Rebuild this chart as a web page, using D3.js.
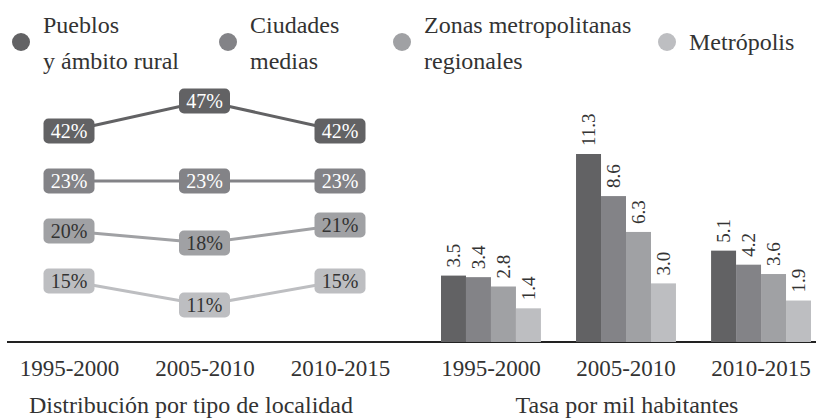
<!DOCTYPE html>
<html>
<head>
<meta charset="utf-8">
<script src="https://cdn.jsdelivr.net/npm/d3@7"></script>
<style>
  body { margin: 0; background: #fff; }
</style>
</head>
<body>
<svg id="chart" width="816" height="418"></svg>
<script>
// data
var seriesNames = [["Pueblos", "y ámbito rural"], ["Ciudades", "medias"], ["Zonas metropolitanas", "regionales"], ["Metrópolis"]];
var seriesColors = ["#626264", "#838387", "#a0a1a4", "#bdbec1"];
var labelColors = ["#ffffff", "#ffffff", "#333333", "#333333"];
var periods = ["1995-2000", "2005-2010", "2010-2015"];
// share by type of locality (%), one row per series
var shares = [[42, 47, 42], [23, 23, 23], [20, 18, 21], [15, 11, 15]];
// rate per thousand inhabitants, one row per series
var rates = [[3.5, 11.3, 5.1], [3.4, 8.6, 4.2], [2.8, 6.3, 3.6], [1.4, 3.0, 1.9]];

var font = "'Liberation Serif', 'Tinos', 'Times New Roman', Times, 'DejaVu Serif', serif";
var svg = d3.select("#chart").attr("font-family", font);
var baseY = 342;
var ink = "#333";

// legend
var legendX = [21, 228, 402, 667];
var legend = svg.selectAll(".legend")
  .data(seriesNames)
  .enter()
  .append("g")
  .attr("class", "legend")
  .attr("transform", function (d, i) { return "translate(" + legendX[i] + ",42)"; });

legend.append("circle")
  .attr("r", 9)
  .style("fill", function (d, i) { return seriesColors[i]; });

legend.each(function (d) {
  var g = d3.select(this);
  d.forEach(function (line, j) {
    g.append("text")
      .attr("x", 22)
      .attr("y", d.length == 1 ? 8 : (j == 0 ? -9 : 27))
      .attr("font-family", font)
      .style("font-size", "24px")
      .style("fill", ink)
      .text(line);
  });
});

// baseline across both panels
svg.append("line")
  .attr("x1", 7).attr("x2", 816)
  .attr("y1", baseY).attr("y2", baseY)
  .style("stroke", "#222")
  .style("stroke-width", 2);

// ---- left panel: slope chart ----
var xL = d3.scalePoint().domain(periods).range([69, 340]);
// each series sits in its own row, moved up/down by the change from the first period
var yRow = d3.scalePoint().domain(d3.range(seriesNames.length)).range([131, 281]);
var yShift = d3.scaleLinear().domain([0, 1]).range([0, -6]);
function yL(row, v) { return yRow(row) + yShift(v - shares[row][0]); }

var rows = svg.selectAll(".row")
  .data(shares)
  .enter()
  .append("g")
  .attr("class", "row");

rows.append("path")
  .attr("d", function (d, i) {
    return d3.line()
      .x(function (v, k) { return xL(periods[k]); })
      .y(function (v) { return yL(i, v); })(d);
  })
  .style("fill", "none")
  .style("stroke", function (d, i) { return seriesColors[i]; })
  .style("stroke-width", 3);

rows.each(function (d, i) {
  var g = d3.select(this);
  d.forEach(function (v, k) {
    var cx = xL(periods[k]), cy = yL(i, v);
    g.append("rect")
      .attr("x", cx - 25.5).attr("y", cy - 12.5)
      .attr("width", 51).attr("height", 25)
      .attr("rx", 5)
      .style("fill", seriesColors[i]);
    g.append("text")
      .attr("x", cx).attr("y", cy)
      .attr("dy", "0.36em")
      .attr("font-family", font)
      .style("text-anchor", "middle")
      .style("font-size", "20px")
      .style("fill", labelColors[i])
      .text(v + "%");
  });
});

svg.append("g")
  .attr("transform", "translate(0," + baseY + ")")
  .call(d3.axisBottom(xL).tickSize(0).tickPadding(18))
  .attr("font-family", font)
  .call(function (g) { g.select(".domain").remove(); })
  .selectAll("text")
  .style("font-size", "23px")
  .style("fill", ink);

svg.append("text")
  .attr("x", 191).attr("y", 413)
  .attr("font-family", font)
  .style("text-anchor", "middle")
  .style("font-size", "24px")
  .style("fill", ink)
  .text("Distribución por tipo de localidad");

// ---- right panel: grouped bars ----
var x0 = d3.scaleBand().domain(periods).range([441, 811]).paddingInner(0.26).paddingOuter(0);
var x1 = d3.scaleBand().domain(d3.range(seriesNames.length)).range([0, x0.bandwidth()]);
var yR = d3.scaleLinear().domain([-0.76, 11.3]).range([baseY, 154]);

var barData = [];
rates.forEach(function (row, i) {
  row.forEach(function (v, k) { barData.push({ s: i, period: periods[k], value: v }); });
});

svg.selectAll("mybar")
  .data(barData)
  .enter()
  .append("rect")
  .attr("x", function (d) { return x0(d.period) + x1(d.s); })
  .attr("y", function (d) { return yR(d.value); })
  .attr("width", x1.bandwidth())
  .attr("height", function (d) { return baseY - yR(d.value); })
  .style("fill", function (d) { return seriesColors[d.s]; });

svg.selectAll(".barlabel")
  .data(barData)
  .enter()
  .append("text")
  .attr("class", "barlabel")
  .attr("transform", function (d) {
    var cx = x0(d.period) + x1(d.s) + x1.bandwidth() / 2;
    return "translate(" + cx + "," + (yR(d.value) - 8) + ")rotate(-90)";
  })
  .attr("dy", "0.35em")
  .attr("font-family", font)
  .style("text-anchor", "start")
  .style("font-size", "19px")
  .style("fill", ink)
  .text(function (d) { return d.value.toFixed(1); });

svg.append("g")
  .attr("transform", "translate(0," + baseY + ")")
  .call(d3.axisBottom(x0).tickSize(0).tickPadding(18))
  .attr("font-family", font)
  .call(function (g) { g.select(".domain").remove(); })
  .selectAll("text")
  .style("font-size", "23px")
  .style("fill", ink);

svg.append("text")
  .attr("x", 627).attr("y", 413)
  .attr("font-family", font)
  .style("text-anchor", "middle")
  .style("font-size", "24px")
  .style("fill", ink)
  .text("Tasa por mil habitantes");
</script>
</body>
</html>
